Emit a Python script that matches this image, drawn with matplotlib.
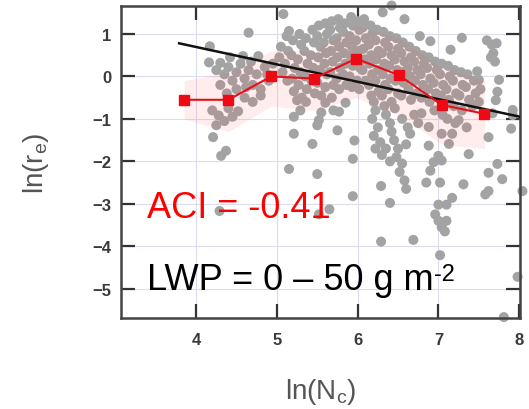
import matplotlib
matplotlib.use('Agg')
import matplotlib.pyplot as plt
import numpy as np

plt.rcParams['font.family'] = ['Liberation Sans', 'DejaVu Sans']
plt.rcParams['mathtext.default'] = 'regular'

# binned means (red) and spread band
bin_x = [3.85, 4.40, 4.93, 5.46, 5.98, 6.51, 7.04, 7.57]
bin_y = [-0.55, -0.55, 0.00, -0.05, 0.42, 0.03, -0.67, -0.88]
band_lo = [-1.00, -1.30, -0.70, -0.80, -0.50, -0.90, -1.60, -1.70]
band_hi = [-0.10, 0.10, 0.60, 0.60, 1.20, 0.90, 0.20, -0.10]

# fit line: ln(re) = a + ACI * ln(Nc)
aci = -0.41
fit_a = 2.334
fit_x = [3.79, 8.02]

# individual samples (gray)
left_group = [
    (4.17, 0.71), (4.16, 0.33), (4.25, 0.15), (4.30, 0.32), (4.35, 0.05), (4.40, 0.22),
    (4.45, -0.10), (4.50, 0.10), (4.55, 0.30), (4.60, -0.05), (4.65, 0.15), (4.70, -0.20),
    (4.75, 0.05), (4.80, -0.30), (4.85, 0.22), (4.90, -0.10), (4.95, 0.30), (4.30, -0.20),
    (4.50, -0.30), (4.60, -0.50), (4.20, -0.80), (4.28, -0.92), (4.40, -0.75), (4.45, -0.95),
    (4.52, -0.82), (4.35, -1.05), (4.70, -0.60), (4.80, -0.45), (4.42, 0.45), (4.58, 0.48),
    (4.68, 0.35), (4.25, -1.15), (4.21, -1.43), (4.38, -0.40), (4.62, -0.25), (4.88, 0.05),
]
main_cloud = [
    (5.05, 0.70), (5.03, 0.45), (5.07, 0.10),
    (5.12, 0.95), (5.14, 0.60), (5.10, 0.30), (5.13, -0.10),
    (5.20, 0.85), (5.18, 0.50), (5.22, 0.20), (5.19, -0.05), (5.21, -0.35),
    (5.28, 1.00), (5.30, 0.75), (5.26, 0.40), (5.29, 0.10), (5.27, -0.20), (5.31, -0.50),
    (5.36, 0.90), (5.34, 0.60), (5.38, 0.30), (5.35, 0.00), (5.37, -0.30), (5.36, -0.60),
    (5.44, 1.10), (5.46, 0.80), (5.42, 0.50), (5.45, 0.20), (5.43, -0.10), (5.47, -0.40),
    (5.52, 1.20), (5.50, 0.95), (5.54, 0.70), (5.51, 0.45), (5.53, 0.15), (5.50, -0.15), (5.55, -0.45),
    (5.60, 1.25), (5.62, 1.00), (5.58, 0.80), (5.61, 0.55), (5.59, 0.30), (5.62, 0.05), (5.60, -0.25),
    (5.68, 1.30), (5.66, 1.10), (5.70, 0.85), (5.67, 0.60), (5.69, 0.35), (5.66, 0.10), (5.70, -0.20), (5.68, -0.50),
    (5.76, 1.35), (5.78, 1.15), (5.74, 0.90), (5.77, 0.70), (5.75, 0.45), (5.78, 0.20), (5.74, -0.05), (5.77, -0.30),
    (5.84, 1.25), (5.82, 1.05), (5.86, 0.80), (5.83, 0.55), (5.85, 0.30), (5.82, 0.05), (5.86, -0.20),
    (5.92, 1.40), (5.94, 1.20), (5.90, 0.95), (5.93, 0.70), (5.91, 0.50), (5.94, 0.25), (5.90, 0.00), (5.93, -0.25),
    (6.00, 1.30), (6.02, 1.10), (5.98, 0.85), (6.01, 0.60), (6.03, 0.20), (5.99, -0.10), (6.02, -0.30),
    (6.08, 1.35), (6.06, 1.15), (6.10, 0.90), (6.07, 0.65), (6.09, 0.40), (6.06, 0.15), (6.10, -0.10),
    (6.16, 1.20), (6.18, 1.00), (6.14, 0.75), (6.17, 0.50), (6.15, 0.30), (6.18, 0.05), (6.14, -0.20), (6.17, -0.45),
    (6.24, 1.10), (6.22, 0.85), (6.26, 0.60), (6.23, 0.40), (6.25, 0.15), (6.22, -0.10), (6.26, -0.35),
    (6.32, 1.05), (6.34, 0.80), (6.30, 0.55), (6.33, 0.30), (6.31, 0.05), (6.34, -0.20), (6.30, -0.45), (6.33, -0.70),
    (6.40, 0.95), (6.38, 0.70), (6.42, 0.50), (6.39, 0.25), (6.41, -0.05), (6.38, -0.30), (6.42, -0.60),
    (6.48, 0.90), (6.50, 0.65), (6.46, 0.40), (6.49, 0.15), (6.47, -0.10), (6.50, -0.40), (6.46, -0.75),
    (6.56, 0.80), (6.54, 0.55), (6.58, 0.35), (6.55, 0.10), (6.57, -0.15), (6.54, -0.45),
    (6.64, 0.70), (6.66, 0.45), (6.62, 0.20), (6.65, 0.00), (6.63, -0.30), (6.66, -0.55),
    (6.72, 0.60), (6.70, 0.35), (6.74, 0.15), (6.71, -0.10), (6.73, -0.40),
    (6.80, 0.50), (6.82, 0.30), (6.78, 0.05), (6.81, -0.20), (6.79, -0.50),
    (6.88, 0.45), (6.86, 0.20), (6.90, -0.05), (6.87, -0.30), (6.89, -0.60),
    (6.96, 0.35), (6.98, 0.15), (6.94, -0.15), (6.97, -0.40), (6.95, -0.80),
    (7.04, 0.30), (7.02, 0.05), (7.06, -0.20), (7.03, -0.45), (7.05, -0.90),
    (7.12, 0.25), (7.14, 0.00), (7.10, -0.30), (7.13, -0.55), (7.11, -1.00),
    (7.20, 0.15), (7.18, -0.10), (7.22, -0.40), (7.19, -0.70), (7.21, -1.10),
    (7.28, 0.10), (7.30, -0.20), (7.26, -0.45), (7.29, -0.80),
    (7.36, 0.05), (7.34, -0.25), (7.38, -0.55), (7.35, -1.20),
    (7.44, -0.10), (7.46, -0.40), (7.42, -0.70),
    (7.52, -0.30), (7.50, -0.60),
]
stream = [
    (6.20, -0.60), (6.22, -0.80), (6.18, -1.00), (6.25, -1.20), (6.20, -1.40), (6.28, -1.55),
    (6.22, -1.70), (6.30, -1.85), (6.35, -0.90), (6.40, -1.10), (6.42, -1.30), (6.45, -1.50),
    (6.50, -1.70), (6.48, -1.90), (6.55, -2.05), (6.52, -2.25), (6.58, -2.45), (6.60, -1.60),
    (6.62, -1.20), (6.55, -1.00), (6.70, -0.90), (6.75, -1.10), (6.65, -1.35), (6.40, -2.00),
    (6.35, -1.70), (6.60, -2.65),
]
outliers = [
    (4.31, -1.87), (4.37, -1.75), (4.29, -3.17), (4.65, 1.03), (4.77, 0.48), (5.08, 1.47),
    (5.15, 1.07), (5.21, -0.95), (5.21, -1.35), (5.44, -1.59), (5.15, -2.18), (5.50, -2.30),
    (5.52, -3.25), (5.65, -3.13), (5.50, -1.15), (5.52, -1.03), (5.75, -1.27), (5.77, -0.83),
    (5.96, -1.51), (5.94, -1.94), (5.94, -2.82), (6.29, -2.58), (6.40, -2.98), (6.29, -3.89),
    (6.69, -3.85), (7.02, -4.21), (7.00, -3.02), (7.10, -3.02), (6.96, -3.25), (7.00, -3.40),
    (7.04, -3.55), (7.10, -3.40), (7.08, -3.65), (6.85, -2.50), (7.17, -2.86), (7.31, -2.54),
    (7.62, -2.27), (7.62, -2.70), (7.58, -2.78), (7.79, -2.42), (7.73, -2.06), (7.375, -1.83),
    (7.62, -1.43), (7.90, -1.23), (7.92, -0.79), (8.04, -2.70), (7.98, -4.72), (7.81, -5.67),
    (6.42, 1.67), (6.31, 1.51), (6.58, 1.35), (6.77, 0.95), (6.90, 0.83), (7.15, 0.63),
    (7.29, 0.91), (7.60, 0.85), (7.66, 0.75), (7.68, 0.55), (7.70, 0.35), (7.65, 0.45),
    (7.72, 0.78), (7.75, -0.08), (7.73, -0.36), (7.71, -0.56), (7.67, -0.87), (7.48, 0.12),
    (7.50, -0.08), (7.92, -0.91), (5.25, -0.56), (5.29, -0.80), (5.60, -0.62), (5.70, -0.80),
    (5.85, -0.62), (5.55, -0.85), (6.79, -0.87), (6.88, -1.19), (7.04, -1.35), (6.88, -1.63),
    (7.00, -1.87), (6.94, -2.02), (7.04, -1.98), (7.17, -1.35), (7.25, -1.03), (7.13, -1.59),
    (6.90, -2.22), (7.02, -2.50),
]

x_ticks = [4, 5, 6, 7, 8]
y_ticks = [1, 0, -1, -2, -3, -4, -5]

fig = plt.figure(figsize=(5.29, 4.10), dpi=100)
ax = fig.add_axes([0.2287, 0.222, 0.7543, 0.761])

pts = np.array(left_group + main_cloud + stream + outliers)
ax.scatter(pts[:, 0], pts[:, 1], s=52, color='#a3a3a3', edgecolors='none',
           zorder=2, clip_on=False)

ax.fill_between(bin_x, band_lo, band_hi, color='#ff4040', alpha=0.09,
                linewidth=0, zorder=3)

fx = np.array(fit_x)
ax.plot(fx, fit_a + aci * fx, color='#111111', lw=1.8, zorder=4)
ax.plot(bin_x, bin_y, color='#e3101a', lw=1.5, marker='s', ms=7.5,
        mfc='#ee0a14', mec='#ee0a14', zorder=5)

ax.text(0.065, 0.324, 'ACI = -0.41', color='#ff0000', fontsize=26,
        transform=ax.transAxes, va='baseline', ha='left', zorder=6)
lwp = ax.text(0.065, 0.093, 'LWP = 0 \u2013 50 g m', color='black', fontsize=26,
              transform=ax.transAxes, va='baseline', ha='left', zorder=6)
ax.annotate('-2', xy=(1.0, 0.97), xycoords=lwp, fontsize=17, color='black',
            ha='left', va='top', zorder=6)

ax.set_xlim(3.07, 8.01)
ax.set_ylim(-5.69, 1.66)
ax.set_xticks(x_ticks)
ax.set_yticks(y_ticks)
ax.grid(True, color='#dcdcf0', lw=0.8, zorder=0)
ax.set_axisbelow(True)

ax.tick_params(direction='in', length=10, width=1.6, color='#333333',
               top=True, right=True, labelsize=12, labelcolor='#3a3a3a')
ax.tick_params(axis='x', pad=10)
ax.tick_params(axis='y', pad=7)
for lab in ax.get_xticklabels() + ax.get_yticklabels():
    lab.set_fontweight('bold')
for spine in ax.spines.values():
    spine.set_color('#444444')
    spine.set_linewidth(1.8)

ax.set_xlabel('ln(N$_c$)', fontsize=20, color='#555555', labelpad=21)
ax.set_ylabel('ln(r$_e$)', fontsize=20, color='#555555', labelpad=30)

fig.savefig('out.png', dpi=100)
